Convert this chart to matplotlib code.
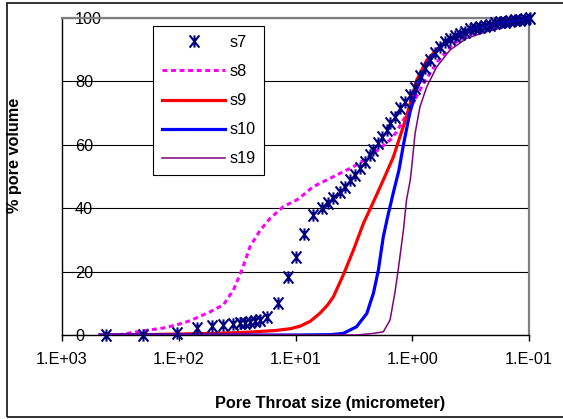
import matplotlib
matplotlib.use("Agg")
import matplotlib.pyplot as plt
from matplotlib.path import Path
from matplotlib.patches import Rectangle
from matplotlib.ticker import FixedLocator, NullLocator

plt.rcParams["font.family"] = ["Liberation Sans", "DejaVu Sans"]

# pore throat size (micrometer) vs cumulative % pore volume
s7_size = [420, 204, 104, 70, 52, 41.5, 34, 30, 27, 24.5, 22.2, 20, 17.6, 14, 11.6, 10, 8.4,
           7.05, 5.97, 5.24, 4.74, 4.16, 3.77, 3.41, 3.09, 2.80, 2.54, 2.30, 2.16, 1.95, 1.83,
           1.66, 1.55, 1.41, 1.27, 1.15, 1.04, 0.95, 0.859, 0.778, 0.705, 0.638, 0.578, 0.524,
           0.475, 0.430, 0.390, 0.353, 0.320, 0.290, 0.263, 0.238, 0.216, 0.195, 0.177, 0.161,
           0.146, 0.132, 0.119, 0.108, 0.098]
s7_pct = [0, 0, 0.5, 2.1, 2.8, 3.0, 3.5, 3.7, 3.9, 4.1, 4.5, 4.7, 5.8, 10.2, 18.2, 24.7, 32,
          37.9, 40.0, 41.5, 43.1, 45.2, 46.8, 48.9, 50.5, 52.6, 54.7, 56.8, 58.4, 60.5, 62.6,
          64.7, 66.8, 68.9, 71.5, 73.6, 75.7, 78.0, 81.7, 84.2, 86.8, 89.0, 90.9, 92.4,
          93.5, 94.3, 95.1, 95.7, 96.4, 96.8, 97.3, 97.6, 97.9, 98.3, 98.6, 98.8,
          99.05, 99.3, 99.5, 99.7, 99.9]

s8_size = [330, 250, 136, 104, 80, 54, 41.5, 34, 28.8, 24.5, 20, 16.5, 12.7, 9.75, 8.57, 7.05,
           5.4, 4.16, 3.19, 2.46, 1.88, 1.55, 1.36, 0.99, 0.80, 0.61, 0.445, 0.30, 0.188, 0.098]
s8_pct = [0, 0.8, 2.2, 3.2, 4.5, 7.3, 9.5, 14.2, 20.5, 27.9, 33.1, 36.8, 40.5, 42.6, 44.2, 46.8,
          48.9, 51, 53.1, 55.7, 58.9, 61.5, 64.1, 73, 79.4, 86.2, 92, 95.2, 97.3, 98.8]

s9_size = [472, 200, 100, 50, 25, 15, 11, 9.1, 7.5, 6.2, 5.3, 4.73, 3.9, 3.19, 2.62, 2.15,
           1.77, 1.45, 1.12, 0.916, 0.751, 0.6, 0.5, 0.35, 0.26, 0.19, 0.13, 0.1]
s9_pct = [0, 0.1, 0.3, 0.5, 0.9, 1.4, 2.0, 2.8, 4.3, 6.8, 9.5, 12.1, 18.9, 26.8, 35.2, 42,
          48.9, 56.2, 68.9, 80.4, 86.7, 90.5, 93, 95.8, 97.3, 98.3, 99.1, 99.6]

s10_size = [472, 10, 5, 3.9, 3.0, 2.45, 2.15, 1.95, 1.77, 1.62, 1.45, 1.3, 1.19, 1.05, 0.93,
            0.86, 0.75, 0.6, 0.5, 0.35, 0.26, 0.19, 0.13, 0.1]
s10_pct = [0, 0, 0.1, 0.5, 2.6, 6.8, 13.2, 20.5, 31, 37.5, 45, 52, 60, 70, 77,
           80, 85.5, 90.3, 93, 95.8, 97.3, 98.3, 99.1, 99.6]

s19_size = [472, 10, 3, 2.16, 1.77, 1.55, 1.41, 1.32, 1.19, 1.12, 1.04, 1.01, 0.946, 0.859,
            0.751, 0.617, 0.475, 0.342, 0.23, 0.136, 0.098]
s19_pct = [0, 0, 0, 0.5, 1, 4.7, 13.2, 20.5, 33.1, 42.6, 48.9, 53.1, 63.6, 72,
           78.3, 84.6, 89.9, 93.6, 95.7, 97.8, 98.8]

x_ticks = [1000, 100, 10, 1, 0.1]
x_tick_labels = ["1.E+03", "1.E+02", "1.E+01", "1.E+00", "1.E-01"]
y_ticks = [0, 20, 40, 60, 80, 100]

FS = 11.7

# Excel-style asterisk marker: vertical bar plus an X
star = Path(
    [(0, -1), (0, 1), (-0.8, -1), (0.8, 1), (-0.8, 1), (0.8, -1)],
    [Path.MOVETO, Path.LINETO] * 3,
)

fig = plt.figure(figsize=(5.63, 4.19), dpi=100)
ax = fig.add_axes([62 / 563, 1 - 335 / 419, (529 - 62) / 563, (335 - 18) / 419])

ax.plot(s8_size, s8_pct, color="#FF00FF", lw=2.2, linestyle=(0, (1.6, 1.2)),
        dash_capstyle="butt", label="s8", zorder=3)
ax.plot(s9_size, s9_pct, color="#FF0000", lw=2.3, label="s9", zorder=3)
ax.plot(s10_size, s10_pct, color="#0000FF", lw=2.3, label="s10", zorder=3)
ax.plot(s19_size, s19_pct, color="#800080", lw=1.1, label="s19", zorder=3)
ax.plot(s7_size, s7_pct, linestyle="none", marker=star, markersize=8.8,
        markeredgecolor="#000080", markerfacecolor="none", markeredgewidth=1.5,
        label="s7", zorder=4, clip_on=False)

ax.set_xscale("log")
ax.set_xlim(1000, 0.1)
ax.set_ylim(0, 100)
ax.xaxis.set_major_locator(FixedLocator(x_ticks))
ax.xaxis.set_minor_locator(NullLocator())
ax.set_xticklabels(x_tick_labels)
ax.set_yticks(y_ticks)
ax.tick_params(axis="x", direction="out", length=4, width=1, pad=8, labelsize=FS)
ax.tick_params(axis="y", length=0, pad=-9.4, labelsize=FS)
for t in ax.get_yticklabels():
    t.set_horizontalalignment("left")

ax.set_axisbelow(True)
ax.yaxis.grid(True, color="black", lw=0.8)
for side in ["left", "bottom"]:
    ax.spines[side].set_color("black")
    ax.spines[side].set_linewidth(1.0)
for side in ["top", "right"]:
    ax.spines[side].set_color("#808080")
    ax.spines[side].set_linewidth(1.6)

handles, labels = ax.get_legend_handles_labels()
order = [labels.index(n) for n in ["s7", "s8", "s9", "s10", "s19"]]
leg = ax.legend([handles[i] for i in order], [labels[i] for i in order],
                loc="upper left", bbox_to_anchor=(153 / 563, 1 - 26 / 419),
                bbox_transform=fig.transFigure, fontsize=FS, frameon=True,
                fancybox=False, edgecolor="black", framealpha=1, borderpad=0.55,
                handlelength=3.9, handletextpad=0.25, labelspacing=0.87,
                borderaxespad=0, numpoints=1)
leg.get_frame().set_linewidth(0.8)

fig.text(330 / 563, 1 - 403 / 419, "Pore Throat size (micrometer)", ha="center",
         va="center", fontsize=FS, fontweight="bold")
fig.text(15 / 563, 1 - 155 / 419, "% pore volume", ha="center", va="center",
         rotation=90, fontsize=FS, fontweight="bold")

fig.add_artist(Rectangle((7 / 563, 1 - 417 / 419), (570 - 7) / 563, (417 - 3) / 419,
                         transform=fig.transFigure, fill=False, edgecolor="#222222",
                         lw=1.3, clip_on=False))

fig.savefig("out.png", dpi=100)
